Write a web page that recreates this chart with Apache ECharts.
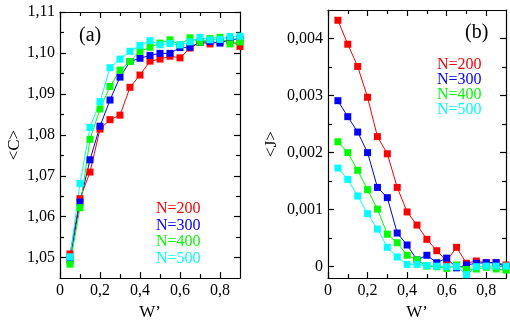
<!DOCTYPE html>
<html>
<head>
<meta charset="utf-8">
<script src="https://cdn.jsdelivr.net/npm/echarts@6/dist/echarts.min.js"></script>
<style>
  html, body { margin: 0; padding: 0; background: #fff; }
  #chart { width: 510px; height: 326px; }
</style>
</head>
<body>
<div id="chart"></div>
<script>
// W' values (shared by both panels)
const W = [0.05, 0.1, 0.15, 0.2, 0.25, 0.3, 0.35, 0.4, 0.45, 0.5, 0.55, 0.6, 0.65, 0.7, 0.75, 0.8, 0.85, 0.9]

// panel (a): <C>
const C200 = [1.0509, 1.0644, 1.0709, 1.0814, 1.0837, 1.0848, 1.0916, 1.0946, 1.0980, 1.0985, 1.0992, 1.0988, 1.1012, 1.1026, 1.1022, 1.1028, 1.1030, 1.1016]
const C300 = [1.0494, 1.0636, 1.0739, 1.0821, 1.0885, 1.0941, 1.0979, 1.0987, 1.0994, 1.0999, 1.0999, 1.1013, 1.1014, 1.1026, 1.1028, 1.1024, 1.1032, 1.1035]
const C400 = [1.0484, 1.0622, 1.0789, 1.0863, 1.0918, 1.0958, 1.0979, 1.1004, 1.1014, 1.1024, 1.1032, 1.1020, 1.1037, 1.1026, 1.1035, 1.1038, 1.1022, 1.1027]
const C500 = [1.0502, 1.0681, 1.0818, 1.0881, 1.0964, 1.0985, 1.1004, 1.1018, 1.1030, 1.1020, 1.1023, 1.1020, 1.1027, 1.1038, 1.1032, 1.1033, 1.1040, 1.1041]

// panel (b): <J>
const J200 = [0.00432, 0.00390, 0.00351, 0.00297, 0.00228, 0.00198, 0.00139, 0.00096, 0.00073, 0.00048, 0.00028, 0.00010, 0.00034, 0.00006, 0.00010, 0.00007, 0.00007, 0.00003]
const J300 = [0.00291, 0.00263, 0.00236, 0.00200, 0.00139, 0.00121, 0.00059, 0.00038, 0.00012, 0.00020, 0.00007, 0.00015, -0.00002, 0.00003, 0.00006, 0.00007, 0.00007, 0.00000]
const J400 = [0.00219, 0.00200, 0.00169, 0.00135, 0.00101, 0.00057, 0.00042, 0.00020, 0.00012, 0.00001, 0.00000, -0.00003, 0.00003, -0.00005, -0.00004, -0.00001, -0.00004, -0.00006]
const J500 = [0.00173, 0.00153, 0.00124, 0.00093, 0.00066, 0.00034, 0.00017, 0.00004, 0.00004, 0.00002, 0.00001, 0.00000, 0.00000, -0.00014, 0.00000, 0.00001, 0.00001, 0.00001]

const names = ['N=200', 'N=300', 'N=400', 'N=500']
const colors = ['#ff0000', '#0000ff', '#00ff00', '#00ffff']

// ticks
const xMajor = [0, 0.2, 0.4, 0.6, 0.8]
const xMinor = [0.1, 0.3, 0.5, 0.7]
const cMajor = [1.05, 1.06, 1.07, 1.08, 1.09, 1.10, 1.11]
const cMinor = [1.055, 1.065, 1.075, 1.085, 1.095, 1.105]
const jMajor = [0, 0.001, 0.002, 0.003, 0.004]
const jMinor = [0.0005, 0.0015, 0.0025, 0.0035]

const FONT = 'Liberation Serif'
const comma = (s) => s.replace('.', ',')

// main axis (labels + long ticks) and a minor-tick overlay, on both sides
function axisSet(dim, gridIndex, min, max, major, minor, fmt, name, nameGap) {
  const sides = dim === 'x' ? ['bottom', 'top'] : ['left', 'right']
  const out = []
  sides.forEach((pos, si) => {
    out.push({
      type: 'value', gridIndex, position: pos, min, max,
      splitLine: { show: false },
      axisLine: { show: true, onZero: false, lineStyle: { color: '#000', width: 1.2 } },
      axisTick: { show: true, inside: true, length: 6, customValues: major, lineStyle: { color: '#000', width: 1.2 } },
      axisLabel: {
        show: si === 0, customValues: major, formatter: fmt, margin: 5,
        color: '#000', fontFamily: FONT, fontSize: 16
      },
      name: si === 0 ? name : '',
      nameLocation: 'middle', nameGap,
      nameRotate: dim === 'y' ? 90 : 0,
      nameTextStyle: { color: '#000', fontFamily: FONT, fontSize: 17 }
    })
    out.push({
      type: 'value', gridIndex, position: pos, min, max,
      splitLine: { show: false },
      axisLine: { show: false, onZero: false },
      axisTick: { show: true, inside: true, length: 4, customValues: minor, lineStyle: { color: '#000', width: 1.2 } },
      axisLabel: { show: false }
    })
  })
  return out
}

const xFmt = (v) => v === 0 ? '0' : comma(v.toFixed(1))
const cFmt = (v) => comma(v.toFixed(2))
const jFmt = (v) => v === 0 ? '0' : comma(v.toFixed(3))

const xAxes = [
  ...axisSet('x', 0, 0, 0.9, xMajor, xMinor, xFmt, 'W\u2019', 20),
  ...axisSet('x', 1, 0, 0.9, xMajor, xMinor, xFmt, 'W\u2019', 20)
]
const yAxes = [
  ...axisSet('y', 0, 1.045, 1.11, cMajor, cMinor, cFmt, '<C>', 35),
  ...axisSet('y', 1, -0.0002, 0.0045, jMajor, jMinor, jFmt, '<J>', 48)
]

function makeSeries(data, i, axisIdx) {
  return {
    type: 'line', name: names[i],
    xAxisIndex: axisIdx, yAxisIndex: axisIdx,
    data: data.map((v, k) => [W[k], v]),
    symbol: 'rect', symbolSize: 7, clip: false,
    lineStyle: { color: colors[i], width: 1 },
    itemStyle: { color: colors[i] },
    emphasis: { disabled: true }
  }
}

const series = []
;[C200, C300, C400, C500].forEach((d, i) => series.push(makeSeries(d, i, 0)))
;[J200, J300, J400, J500].forEach((d, i) => series.push(makeSeries(d, i, 4)))

const legendData = names.map((n, i) => ({ name: n, icon: 'none', textStyle: { color: colors[i] } }))

const chart = echarts.init(document.getElementById('chart'), null, { renderer: 'canvas' })
chart.setOption({
  animation: false,
  backgroundColor: '#fff',
  grid: [
    { left: 60, top: 12, width: 180, height: 276 },
    { left: 328, top: 10, width: 178, height: 278 }
  ],
  title: [
    { text: '(a)', left: 74, top: 21, textStyle: { fontFamily: FONT, fontSize: 20, fontWeight: 'normal', color: '#000' } },
    { text: '(b)', left: 460, top: 18, textStyle: { fontFamily: FONT, fontSize: 20, fontWeight: 'normal', color: '#000' } }
  ],
  legend: [
    {
      left: 146, top: 196, orient: 'vertical', itemGap: 0, itemWidth: 0, itemHeight: 10,
      selectedMode: false, data: legendData,
      textStyle: { fontFamily: FONT, fontSize: 16, lineHeight: 16.5 }
    },
    {
      left: 427, top: 52, orient: 'vertical', itemGap: -1, itemWidth: 0, itemHeight: 10,
      selectedMode: false, data: legendData,
      textStyle: { fontFamily: FONT, fontSize: 16, lineHeight: 15 }
    }
  ],
  xAxis: xAxes,
  yAxis: yAxes,
  series
})
</script>
</body>
</html>
